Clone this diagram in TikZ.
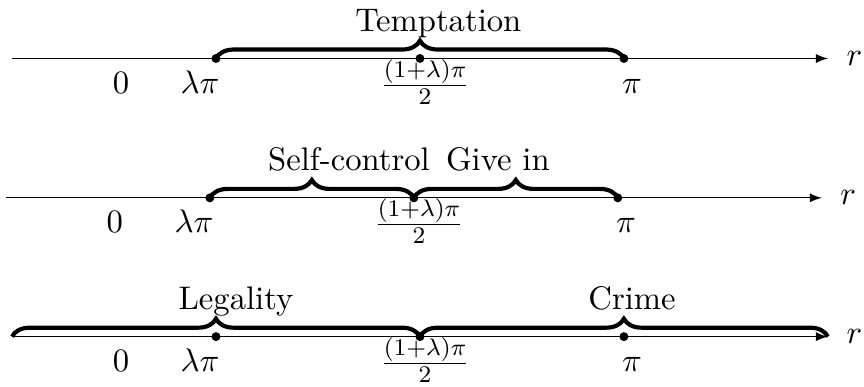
\documentclass[11pt,tikz,border=0pt]{standalone}
\usetikzlibrary{decorations.pathreplacing}
\begin{document}
\begin{tikzpicture}[
      x=2.403cm,
      y=1cm,
      dot/.style={circle, fill, inner sep=0pt, minimum size=3pt},
      brc/.style={decorate, decoration={brace, amplitude=6pt}, line width=1.4pt},
      lbl/.style={anchor=base}]
    \useasboundingbox (-0.0588,-0.593) rectangle (4.177,3.966);

    % first line
    \coordinate (s1) at (0, 3.277);
    \coordinate (e1) at (4, 3.277);
    \node [dot] (lp1)  at (1, 3.277) {};
    \node [dot] (mid1) at (2, 3.277) {};
    \node [dot] (pi1)  at (3, 3.277) {};
    \node [lbl] (zero1l) at (0.534, 2.867) {$0$};
    \node [lbl] (lp1l)   at (0.922, 2.867) {$\lambda\pi$};
    \node [lbl] (mid1l)  at (2.025, 2.867) {$\frac{(1+\lambda)\pi}{2}$};
    \node [lbl] (pi1l)   at (3.04,  2.867) {$\pi$};
    \node (r1) at (4.13, 3.277) {$r$};
    \node [lbl] (tempt) at (2.09, 3.595) {Temptation};

    \draw [-latex] (s1) -- (e1);
    \draw [brc] (lp1.center) -- (pi1.center);

    % second line
    \coordinate (s2) at (-0.03, 1.635);
    \coordinate (e2) at (3.97,  1.635);
    \node [dot] (lp2)  at (0.97, 1.635) {};
    \node [dot] (mid2) at (1.97, 1.635) {};
    \node [dot] (pi2)  at (2.97, 1.635) {};
    \node [lbl] (zero2l) at (0.504, 1.225) {$0$};
    \node [lbl] (lp2l)   at (0.892, 1.225) {$\lambda\pi$};
    \node [lbl] (mid2l)  at (1.995, 1.225) {$\frac{(1+\lambda)\pi}{2}$};
    \node [lbl] (pi2l)   at (3.01,  1.225) {$\pi$};
    \node (r2) at (4.10, 1.635) {$r$};
    \node [lbl] (selfc) at (1.652, 1.953) {Self-control};
    \node [lbl] (givein) at (2.382, 1.953) {Give in};

    \draw [-latex] (s2) -- (e2);
    \draw [brc] (lp2.center) -- (mid2.center);
    \draw [brc] (mid2.center) -- (pi2.center);

    % third line
    \coordinate (s3) at (0, 0);
    \coordinate (e3) at (4, 0);
    \node [dot] (lp3)  at (1, 0) {};
    \node [dot] (mid3) at (2, 0) {};
    \node [dot] (pi3)  at (3, 0) {};
    \node [lbl] (zero3l) at (0.534, -0.41) {$0$};
    \node [lbl] (lp3l)   at (0.922, -0.41) {$\lambda\pi$};
    \node [lbl] (mid3l)  at (2.025, -0.41) {$\frac{(1+\lambda)\pi}{2}$};
    \node [lbl] (pi3l)   at (3.04,  -0.41) {$\pi$};
    \node (r3) at (4.13, 0) {$r$};
    \node [lbl] (legal) at (1.098, 0.318) {Legality};
    \node [lbl] (crime) at (3.04,  0.318) {Crime};

    \draw [-latex] (s3) -- (e3);
    \draw [brc] (s3) -- (mid3.center);
    \draw [brc] (mid3.center) -- (e3);

\end{tikzpicture}
\end{document}
